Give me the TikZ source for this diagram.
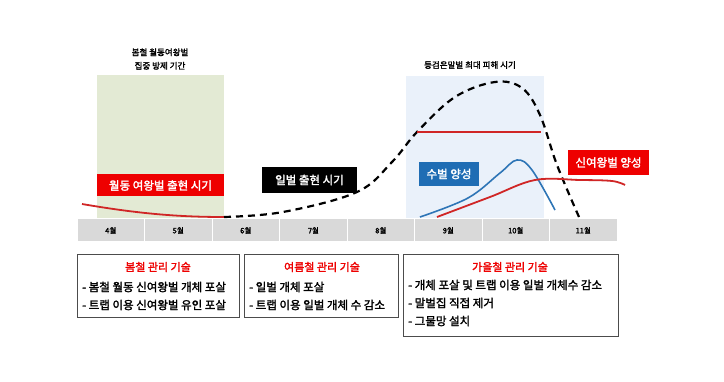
\documentclass[tikz,border=0pt]{standalone}
\usepackage{fontspec}
\newfontfamily\kr{Noto Sans CJK KR}[AutoFakeBold=2]
\usetikzlibrary{positioning}

\definecolor{springgreen}{HTML}{E3EAD4}
\definecolor{peakblue}{HTML}{EAF1FA}
\definecolor{tagred}{HTML}{EE0000}
\definecolor{curvered}{HTML}{D02626}
\definecolor{droneblue}{HTML}{2E75B6}
\definecolor{tagblue}{HTML}{1F6DB4}
\definecolor{monthgray}{HTML}{D9D9D9}

\tikzset{
  period/.style={fill=#1, draw=none, inner sep=0pt, anchor=north west},
  tag/.style={fill=#1, text=white, inner sep=0pt,
    font=\kr\bfseries\fontsize{11.5}{13}\selectfont},
  month/.style={fill=monthgray, draw=white, line width=1pt, inner sep=0pt,
    minimum width=67.5pt, minimum height=23pt,
    font=\kr\bfseries\fontsize{7.5}{8}\selectfont},
  toplabel/.style={align=center, inner sep=0pt,
    font=\kr\bfseries\fontsize{8.5}{13.5}\selectfont},
  techbox/.style={draw=black!70, line width=0.8pt, inner sep=0pt, anchor=north west},
  techtitle/.style={text=tagred, inner sep=0pt,
    font=\kr\bfseries\fontsize{11}{12}\selectfont},
  techline/.style={anchor=west, inner sep=0pt,
    font=\kr\bfseries\fontsize{11.5}{12}\selectfont},
}

\begin{document}
\begin{tikzpicture}[x=1pt,y=-1pt]
  \useasboundingbox[fill=white] (0,0) rectangle (724,382);

  % shaded periods
  \node (spring) at (97,75)  [period=springgreen, minimum width=127pt, minimum height=144pt] {};
  \node (peak)   at (406,76) [period=peakblue, minimum width=138pt, minimum height=143pt] {};
  \node (springlabel) at (160,59) [toplabel] {봄철 월동여왕벌\\집중 방제 기간};
  \node (peaklabel)   at (470,65) [toplabel] {등검은말벌 최대 피해 시기};

  % months
  \foreach \m [count=\i from 0] in {4,...,11}
    \node (m\m) at ({110.75+67.5*\i},230.5) [month] {\m{}월};

  % curves
  \draw[curvered, line width=1.8pt]
    (82,204) .. controls (140,214) and (180,217) .. (224,217);
  \draw[line width=2.2pt, dash pattern=on 7pt off 5pt]
    plot[smooth, tension=0.6] coordinates {(224,217) (283,212) (357,192) (392,162)
      (417,132) (455,97) (495,82) (522,88) (540,115) (557,165) (579,217)};
  \draw[curvered, line width=1.8pt] (417,132) -- (541,132);
  \draw[droneblue, line width=1.6pt]
    plot[smooth, tension=0.6] coordinates {(420,217) (468,198) (500,173) (517,160)
      (532,170) (555,210)};
  \draw[curvered, line width=1.8pt]
    plot[smooth, tension=0.6] coordinates {(437,217) (490,197) (535,180) (580,180)
      (612,181) (625,185)};

  % period tags
  \node (winter) at (160.5,185.5) [tag=tagred, minimum width=127pt, minimum height=22pt] {월동 여왕벌 출현 시기};
  \node (worker) at (309.5,180)   [tag=black, minimum width=95pt, minimum height=26pt] {일벌 출현 시기};
  \node (drone)  at (449,174)     [tag=tagblue, minimum width=60pt, minimum height=24pt] {수벌 양성};
  \node (queen)  at (608.5,162.5) [tag=tagred, minimum width=81pt, minimum height=25pt] {신여왕벌 양성};

  % control methods
  \node (springbox) at (77,254)  [techbox, minimum width=162pt, minimum height=63pt] {};
  \node (summerbox) at (244,254) [techbox, minimum width=154pt, minimum height=63pt] {};
  \node (autumnbox) at (403,254) [techbox, minimum width=215pt, minimum height=82pt] {};

  \node (springtitle) at (158,267) [techtitle] {봄철 관리 기술};
  \node (springa) at (82,287) [techline] {- 봄철 월동 신여왕벌 개체 포살};
  \node (springb) at (82,305) [techline] {- 트랩 이용 신여왕벌 유인 포살};

  \node (summertitle) at (322,267) [techtitle] {여름철 관리 기술};
  \node (summera) at (249,287) [techline] {- 일벌 개체 포살};
  \node (summerb) at (249,305) [techline] {- 트랩 이용 일벌 개체 수 감소};

  \node (autumntitle) at (510,267) [techtitle] {가을철 관리 기술};
  \node (autumna) at (408,285) [techline] {- 개체 포살 및 트랩 이용 일벌 개체수 감소};
  \node (autumnb) at (408,303) [techline] {- 말벌집 직접 제거};
  \node (autumnc) at (408,321) [techline] {- 그물망 설치};
\end{tikzpicture}
\end{document}
